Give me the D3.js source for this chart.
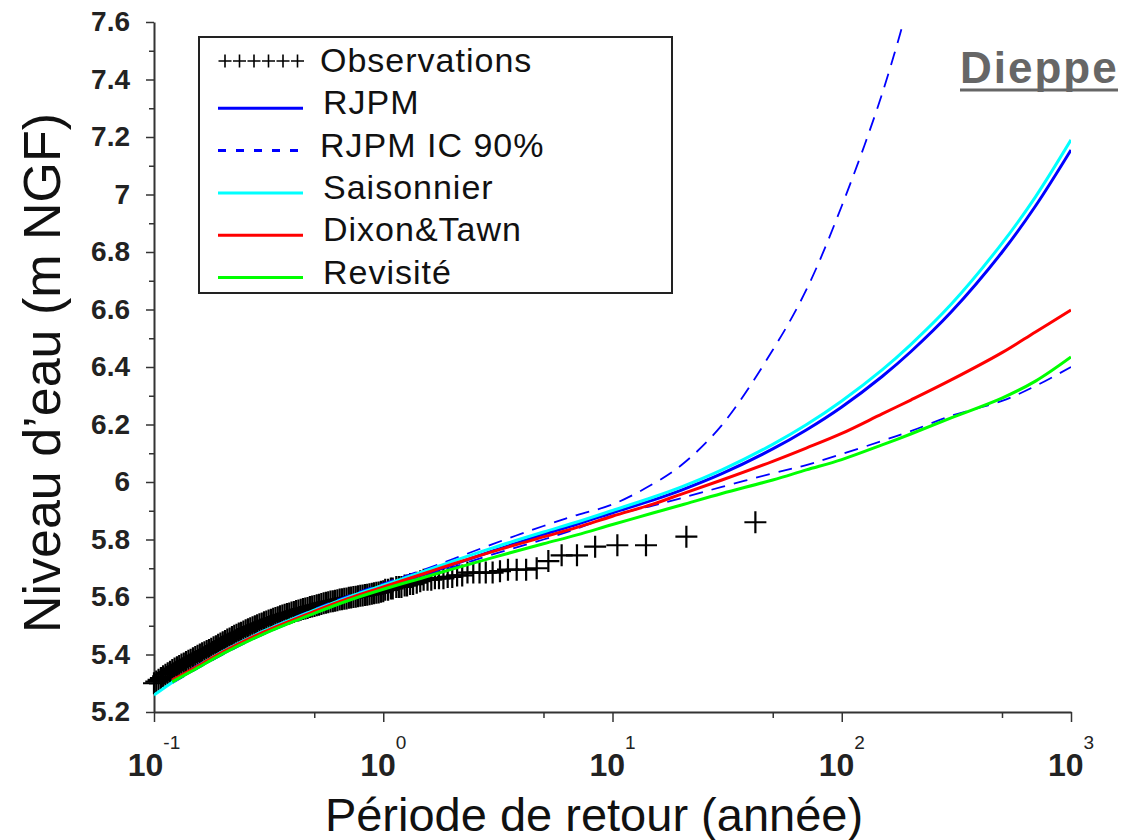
<!DOCTYPE html>
<html>
<head>
<meta charset="utf-8">
<script src="https://cdn.jsdelivr.net/npm/d3@7"></script>
<style>
    html, body { margin: 0; padding: 0; background: #fff; }
    svg { display: block; font-family: "Liberation Sans", Arial, sans-serif; }
</style>
</head>
<body>
<div class="viz"></div>
<script>
// return periods (years) at which the fitted curves were read
const returnPeriods = [0.1, 0.12, 0.15, 0.2, 0.3, 0.5, 0.7, 1, 1.5, 2, 3, 5, 7, 10, 15, 20, 30, 50, 70, 100, 150, 200, 300, 500, 700, 1000];

// fitted return levels (m NGF)
const rjpm = [null, 5.305, 5.348, 5.404, 5.473, 5.546, 5.590, 5.632, 5.678, 5.712, 5.760, 5.818, 5.853, 5.893, 5.937, 5.972, 6.029, 6.115, 6.181, 6.261, 6.367, 6.453, 6.591, 6.799, 6.960, 7.155];
const rjpmLow = [null, 5.300, 5.345, 5.400, 5.470, 5.542, 5.587, 5.628, 5.672, 5.703, 5.748, 5.800, 5.838, 5.883, 5.918, 5.944, 5.983, 6.030, 6.059, 6.097, 6.143, 6.177, 6.230, 6.282, 6.334, 6.400];
const rjpmHigh = [null, 5.310, 5.356, 5.412, 5.483, 5.558, 5.604, 5.647, 5.695, 5.731, 5.784, 5.847, 5.885, 5.922, 5.993, 6.059, 6.198, 6.459, 6.668, 6.960, 7.350, 7.690, null, null, null, null];
const saisonnier = [5.259, 5.303, 5.352, 5.411, 5.481, 5.554, 5.599, 5.641, 5.689, 5.724, 5.771, 5.826, 5.861, 5.901, 5.947, 5.983, 6.042, 6.131, 6.199, 6.282, 6.390, 6.478, 6.618, 6.830, 6.992, 7.190];
const dixonTawn = [null, 5.311, 5.353, 5.409, 5.478, 5.550, 5.594, 5.635, 5.681, 5.714, 5.758, 5.809, 5.842, 5.881, 5.923, 5.958, 6.007, 6.072, 6.118, 6.169, 6.237, 6.285, 6.355, 6.450, 6.522, 6.598];
const revisite = [null, 5.305, 5.347, 5.403, 5.471, 5.543, 5.587, 5.627, 5.668, 5.697, 5.737, 5.785, 5.816, 5.852, 5.892, 5.920, 5.960, 6.007, 6.042, 6.078, 6.129, 6.167, 6.223, 6.292, 6.351, 6.435];

// observations: empirical return period (years) and level (m NGF)
const obsPeriod = [
    0.1000, 0.1023, 0.1047, 0.1072, 0.1096, 0.1122, 0.1148, 0.1175, 0.1202, 0.1230,
    0.1259, 0.1288, 0.1318, 0.1349, 0.1380, 0.1413, 0.1445, 0.1479, 0.1514, 0.1549,
    0.1585, 0.1622, 0.1660, 0.1698, 0.1738, 0.1778, 0.1820, 0.1862, 0.1905, 0.1950,
    0.1995, 0.2042, 0.2089, 0.2138, 0.2188, 0.2239, 0.2291, 0.2344, 0.2399, 0.2455,
    0.2512, 0.2570, 0.2630, 0.2692, 0.2754, 0.2818, 0.2884, 0.2951, 0.3020, 0.3090,
    0.3162, 0.3236, 0.3311, 0.3388, 0.3467, 0.3548, 0.3631, 0.3715, 0.3802, 0.3890,
    0.3981, 0.4074, 0.4169, 0.4266, 0.4365, 0.4467, 0.4571, 0.4677, 0.4786, 0.4898,
    0.5012, 0.5129, 0.5248, 0.5370, 0.5495, 0.5623, 0.5754, 0.5888, 0.6026, 0.6166,
    0.6310, 0.6457, 0.6607, 0.6761, 0.6918, 0.7079, 0.7244, 0.7413, 0.7586, 0.7762,
    0.7943, 0.8128, 0.8318, 0.8511, 0.8710, 0.8913, 0.9120, 0.9333, 0.9550, 0.9772,
    1.00, 1.02, 1.05, 1.08, 1.10, 1.14, 1.17, 1.20, 1.24, 1.27,
    1.31, 1.35, 1.40, 1.45, 1.50, 1.56, 1.62, 1.68, 1.75, 1.83,
    1.91, 2.00, 2.10, 2.21, 2.33, 2.47, 2.63, 2.80, 3.00, 3.23,
    3.50, 3.82, 4.20, 4.67, 5.25, 6.00, 7.00, 8.40, 10.5, 14.0,
    21.0, 42.0
];
const obsLevel = [
    5.300, 5.306, 5.312, 5.318, 5.324, 5.330, 5.335, 5.340, 5.346, 5.351,
    5.356, 5.360, 5.365, 5.369, 5.374, 5.378, 5.382, 5.387, 5.391, 5.396,
    5.400, 5.404, 5.408, 5.412, 5.416, 5.420, 5.425, 5.429, 5.434, 5.438,
    5.443, 5.447, 5.452, 5.456, 5.461, 5.465, 5.469, 5.473, 5.476, 5.480,
    5.484, 5.488, 5.491, 5.495, 5.498, 5.502, 5.505, 5.508, 5.512, 5.515,
    5.518, 5.521, 5.524, 5.527, 5.530, 5.533, 5.536, 5.538, 5.541, 5.543,
    5.546, 5.548, 5.551, 5.553, 5.556, 5.558, 5.560, 5.562, 5.565, 5.567,
    5.569, 5.571, 5.573, 5.576, 5.578, 5.580, 5.582, 5.584, 5.585, 5.587,
    5.589, 5.591, 5.592, 5.594, 5.595, 5.597, 5.598, 5.600, 5.601, 5.603,
    5.604, 5.605, 5.607, 5.608, 5.610, 5.611, 5.613, 5.615, 5.616, 5.618,
    5.620, 5.625, 5.625, 5.630, 5.630, 5.635, 5.635, 5.635, 5.640, 5.640,
    5.645, 5.645, 5.650, 5.655, 5.660, 5.660, 5.660, 5.665, 5.665, 5.665,
    5.670, 5.670, 5.675, 5.675, 5.685, 5.685, 5.685, 5.685, 5.685, 5.690,
    5.695, 5.695, 5.695, 5.700, 5.725, 5.745, 5.745, 5.775, 5.780, 5.780,
    5.810, 5.860
];

const yMajor = [5.2, 5.4, 5.6, 5.8, 6, 6.2, 6.4, 6.6, 6.8, 7, 7.2, 7.4, 7.6];
const yTickLabels = ['5.2', '5.4', '5.6', '5.8', '6', '6.2', '6.4', '6.6', '6.8', '7', '7.2', '7.4', '7.6'];
const yMinor = [5.3, 5.5, 5.7, 5.9, 6.1, 6.3, 6.5, 6.7, 6.9, 7.1, 7.3, 7.5];
const xMajor = [0.1, 1, 10, 100, 1000];
const xTickExponents = ['-1', '0', '1', '2', '3'];
const xMinor = [0.5, 5, 50, 500];

const legendLabels = ['Observations', 'RJPM', 'RJPM IC 90%', 'Saisonnier', 'Dixon&Tawn', 'Revisité'];

const W = 1122;
const H = 840;
const svg = d3.select('.viz').append('svg')
    .attr('width', W)
    .attr('height', H);

const x = d3.scaleLog().domain([0.1, 1000]).range([154, 1071]);
const y = d3.scaleLinear().domain([5.2, 7.6]).range([712, 22]);

// clip
svg.append('clipPath').attr('id', 'plot-clip')
    .append('rect')
    .attr('x', 154).attr('y', 22)
    .attr('width', 1071 - 154).attr('height', 712 - 22);

// axes
const axisColor = '#333';
const gy = svg.append('g').attr('transform', 'translate(154,0)')
    .call(d3.axisLeft(y).tickValues(yMajor).tickSize(8).tickSizeOuter(0).tickPadding(16)
        .tickFormat((d, i) => yTickLabels[i]));
svg.append('g').attr('transform', 'translate(154,0)')
    .call(d3.axisLeft(y).tickValues(yMinor).tickSize(5).tickSizeOuter(0).tickFormat(''))
    .select('.domain').remove();

svg.append('g').attr('transform', 'translate(0,712)')
    .call(d3.axisBottom(x).tickValues(xMajor).tickSize(10).tickSizeOuter(0).tickFormat(''));
svg.append('g').attr('transform', 'translate(0,712)')
    .call(d3.axisBottom(x).tickValues(xMinor).tickSize(6).tickSizeOuter(0).tickFormat(''))
    .select('.domain').remove();

svg.selectAll('.domain').attr('stroke', axisColor).attr('stroke-width', 2);
svg.selectAll('.tick line').attr('stroke', axisColor).attr('stroke-width', 1.5);
gy.selectAll('.tick text')
    .attr('font-size', 28)
    .attr('font-weight', 'bold')
    .attr('font-family', '"Liberation Sans", Arial, sans-serif')
    .attr('fill', '#222');

// x tick labels 10^n
const xLab = svg.append('g').selectAll('text')
    .data(xMajor)
    .enter()
    .append('text')
    .attr('x', d => x(d))
    .attr('y', 776)
    .attr('text-anchor', 'middle')
    .attr('font-size', 32)
    .attr('font-weight', 'bold')
    .attr('fill', '#222')
    .text('10');
xLab.append('tspan')
    .attr('dy', -27)
    .attr('font-size', 19)
    .attr('font-weight', 'normal')
    .text((d, i) => xTickExponents[i]);

// axis titles
svg.append('text')
    .attr('transform', 'translate(60,373) rotate(-90)')
    .attr('text-anchor', 'middle')
    .attr('font-size', 52)
    .attr('fill', '#111')
    .text('Niveau d\u2019eau (m NGF)');
svg.append('text')
    .attr('x', 594)
    .attr('y', 831)
    .attr('text-anchor', 'middle')
    .attr('font-size', 47)
    .attr('fill', '#111')
    .text('Période de retour (année)');

// observations
const plus = 'M-11,0H11M0,-11V11';
svg.append('g').selectAll('path')
    .data(obsPeriod)
    .enter()
    .append('path')
    .attr('d', plus)
    .attr('transform', (d, i) => `translate(${x(d)},${y(obsLevel[i])})`)
    .attr('stroke', '#000')
    .attr('stroke-width', 2.2)
    .attr('fill', 'none');

// fitted curves
const series = [
    { values: rjpm, color: '#0000ff', width: 3, dash: null },
    { values: rjpmLow, color: '#0000ff', width: 1.8, dash: '14,9' },
    { values: rjpmHigh, color: '#0000ff', width: 1.8, dash: '14,9' },
    { values: saisonnier, color: '#00ffff', width: 3, dash: null },
    { values: dixonTawn, color: '#ff0000', width: 3, dash: null },
    { values: revisite, color: '#00ff00', width: 3, dash: null },
];
const line = d3.line()
    .defined(d => d[1] !== null)
    .x(d => x(d[0]))
    .y(d => y(d[1]))
    .curve(d3.curveCatmullRom);

svg.append('g').attr('clip-path', 'url(#plot-clip)')
    .selectAll('path')
    .data(series)
    .enter()
    .append('path')
    .attr('d', s => line(returnPeriods.map((t, i) => [t, s.values[i]])))
    .attr('fill', 'none')
    .attr('stroke', s => s.color)
    .attr('stroke-width', s => s.width)
    .attr('stroke-dasharray', s => s.dash);

// legend
const legend = svg.append('g');
legend.append('rect')
    .attr('x', 199).attr('y', 37)
    .attr('width', 473).attr('height', 256)
    .attr('fill', '#fff')
    .attr('stroke', '#222')
    .attr('stroke-width', 2);

const legendSamples = [
    null,
    { color: '#0000ff', dash: null },
    { color: '#0000ff', dash: '8,10' },
    { color: '#00ffff', dash: null },
    { color: '#ff0000', dash: null },
    { color: '#00ff00', dash: null },
];
legendLabels.forEach((label, i) => {
    const base = 72 + i * 42.3;
    const sample = legendSamples[i];
    if (sample) {
        legend.append('line')
            .attr('x1', 218).attr('x2', 303)
            .attr('y1', base - 6).attr('y2', base - 6)
            .attr('stroke', sample.color)
            .attr('stroke-width', 3)
            .attr('stroke-dasharray', sample.dash);
    } else {
        for (let k = 0; k < 6; k += 1) {
            legend.append('path')
                .attr('d', 'M-6.5,0H6.5M0,-6.5V6.5')
                .attr('transform', `translate(${225 + k * 14.5},${base - 11})`)
                .attr('stroke', '#000')
                .attr('stroke-width', 1.6);
        }
    }
    legend.append('text')
        .attr('x', i === 0 || i === 2 ? 320 : 323)
        .attr('y', base)
        .attr('font-size', 34)
        .attr('letter-spacing', 1)
        .attr('fill', '#111')
        .text(label);
});

// station name
svg.append('text')
    .attr('x', 960)
    .attr('y', 83)
    .attr('font-size', 44)
    .attr('font-weight', 'bold')
    .attr('letter-spacing', 2)
    .attr('fill', '#666')
    .text('Dieppe');
svg.append('line')
    .attr('x1', 960).attr('x2', 1118)
    .attr('y1', 90).attr('y2', 90)
    .attr('stroke', '#666')
    .attr('stroke-width', 3);
</script>
</body>
</html>
